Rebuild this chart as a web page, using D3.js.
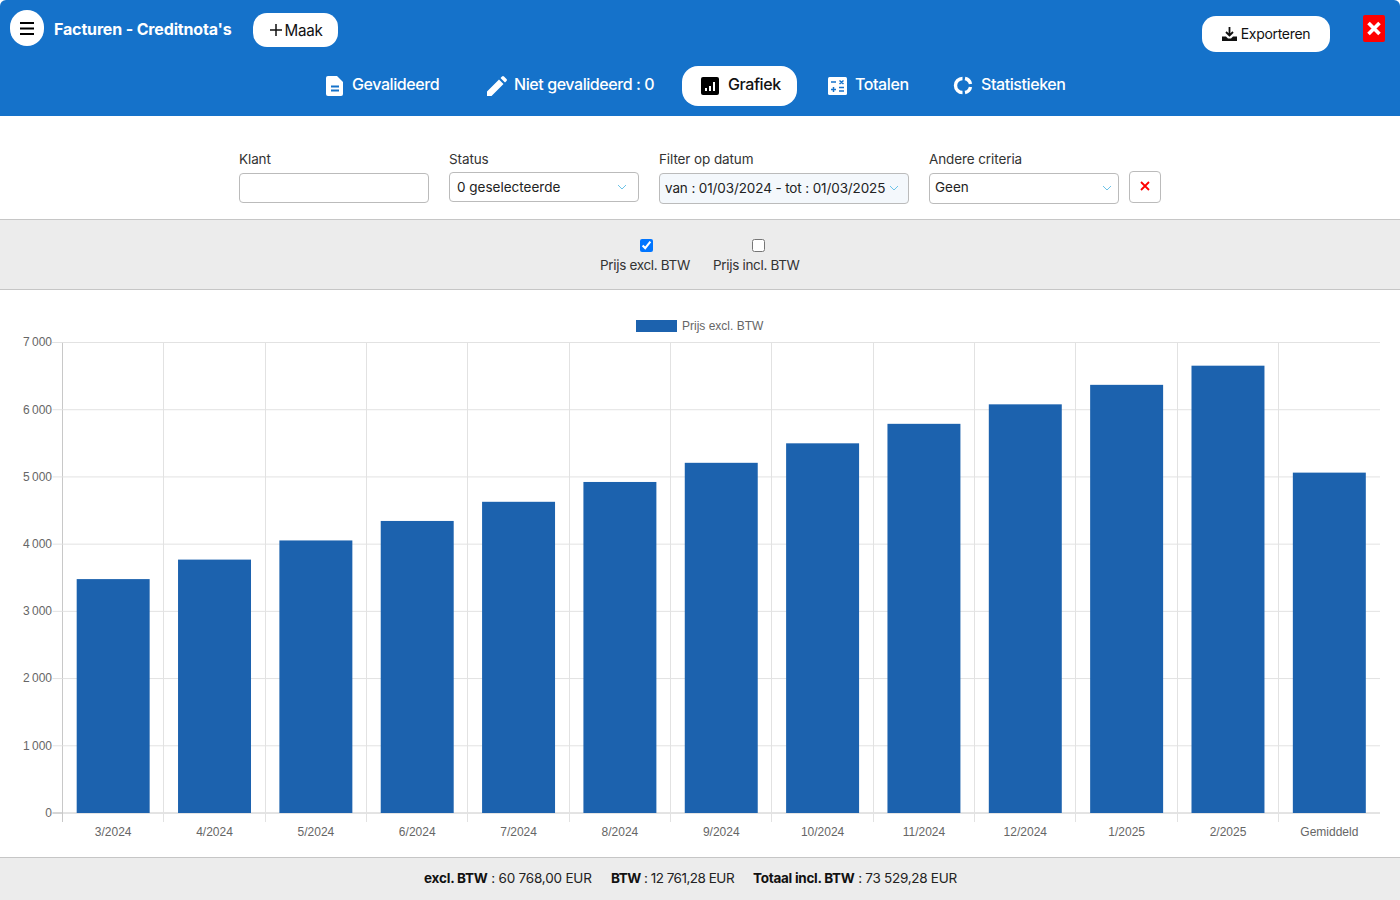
<!DOCTYPE html>
<html>
<head>
<meta charset="utf-8">
<title>Facturen - Creditnota's</title>
<style>
  html, body { margin: 0; padding: 0; background: #fff; }
  body { width: 1400px; height: 900px; position: relative; overflow: hidden; font-family: Inter, "Open Sans", sans-serif; color: #222; }
  .abs { position: absolute; white-space: nowrap; }
  #top { left: 0; top: 0; width: 1400px; height: 116px; background: #1572ca; border-radius: 6px 6px 0 0; }
  .pill { background: #fff; color: #111; display: flex; align-items: center; justify-content: center; box-sizing: border-box; }
  .tab { color: #fff; font-size: 16px; letter-spacing: -0.42px; font-weight: 500; line-height: 20px; }
  .tab svg, .pill svg { position: absolute; }
  .lab { font-size: 13.5px; letter-spacing: -0.1px; color: #333; line-height: 16px; }
  .box { box-sizing: border-box; border: 1px solid #bbb; border-radius: 4px; background: #fff; font-size: 13.5px; color: #222; line-height: 28px; padding-left: 7px; }
  .band { left: 0; width: 1400px; background: #ececec; box-sizing: border-box; }
  .foot { font-size: 13.5px; color: #222; top: 870px; line-height: 16px; }
  .foot b { color: #111; font-weight: 700; }
  #chart { position: absolute; left: 0; top: 290px; }
  #chart text { font-family: "Liberation Sans", Arial, sans-serif; }
</style>
</head>
<body>
  <div class="abs" id="top"></div>

  <div class="abs pill" style="left:10px;top:10px;width:34px;height:36px;border-radius:18px">
    <svg width="14" height="13" viewBox="0 0 14 13" style="left:10px;top:12px"><path d="M0 1h14M0 6.500h14M0 12h14" stroke="#000" stroke-width="2"/></svg>
  </div>
  <div class="abs" style="left:54px;top:19px;color:#fff;font-size:16px;font-weight:700;letter-spacing:-0.15px;line-height:20px">Facturen - Creditnota's</div>
  <div class="abs pill" style="left:253px;top:13px;width:85px;height:34px;border-radius:14px;font-size:15.2px;letter-spacing:-0.3px;padding-left:16px">
    <svg width="12" height="12" viewBox="0 0 12 12" style="left:17px;top:11px"><path d="M6 0v12M0 6h12" stroke="#111" stroke-width="1.5"/></svg>Maak
  </div>
  <div class="abs pill" style="left:1202px;top:16px;width:128px;height:36px;border-radius:14px;font-size:14px;letter-spacing:-0.3px;padding-left:19px;padding-bottom:2px">
    <svg width="15" height="14" viewBox="0 0 15 14" style="left:20px;top:11px"><path d="M7.500 0v8M4 5l3.500 3.500L11 5" fill="none" stroke="#111" stroke-width="1.800"/><path d="M0 9.500h4l2 2h3l2-2h4V14H0z" fill="#111"/></svg>Exporteren
  </div>
  <div class="abs" style="left:1363px;top:15px;width:22px;height:27px;background:#f00;border-radius:2px">
    <svg width="22" height="27" viewBox="0 0 22 27"><path d="M5.500 8l11 11M16.500 8l-11 11" stroke="#fff" stroke-width="3.600"/></svg>
  </div>

  <svg class="abs" style="left:326px;top:76px" width="18" height="20" viewBox="0 0 18 20"><path d="M2 0h9l6 6v12a2 2 0 0 1-2 2H2a2 2 0 0 1-2-2V2a2 2 0 0 1 2-2z" fill="#fff"/><path d="M5 10.500h8M5 14.500h8" stroke="#1572ca" stroke-width="1.800"/></svg>
  <div class="abs tab" style="left:352px;top:74px">Gevalideerd</div>
  <svg class="abs" style="left:487px;top:76px" width="20" height="20" viewBox="0 0 20 20"><path d="M0 20v-4.500L12 3.500 16.500 8 4.500 20zM13.500 2l1.500-1.500a1.500 1.500 0 0 1 2 0l2.500 2.500a1.500 1.500 0 0 1 0 2L18 6.500z" fill="#fff"/></svg>
  <div class="abs tab" style="left:514px;top:74px">Niet gevalideerd : 0</div>
  <div class="abs" style="left:682px;top:66px;width:115px;height:40px;background:#fff;border-radius:16px"></div>
  <svg class="abs" style="left:701px;top:77px" width="18" height="18" viewBox="0 0 18 18"><rect width="18" height="18" rx="2" fill="#000"/><path d="M5 14v-3M9 14V9M13 14V5" stroke="#fff" stroke-width="2"/></svg>
  <div class="abs tab" style="left:728px;top:74px;color:#111">Grafiek</div>
  <svg class="abs" style="left:828px;top:77px" width="19" height="18" viewBox="0 0 19 18"><rect width="19" height="18" rx="1.500" fill="#fff"/><path d="M3 5h5M3 12.500h5M5.500 10v5M11 10.500h5M11 14h5M11.500 3.500l4 3.500M15.500 3.500l-4 3.500" stroke="#1572ca" stroke-width="1.500"/></svg>
  <div class="abs tab" style="left:855px;top:74px">Totalen</div>
  <svg class="abs" style="left:953px;top:75px" width="21" height="21" viewBox="0 0 21 21"><path d="M9.500 3.500a7 7 0 0 0 0 14M12 3.500a7 7 0 0 1 5.500 5.500M17.500 12a7 7 0 0 1-5.500 5.500" fill="none" stroke="#fff" stroke-width="3.400"/></svg>
  <div class="abs tab" style="left:981px;top:74px">Statistieken</div>

  <div class="abs lab" style="left:239px;top:151px">Klant</div>
  <div class="abs box" style="left:239px;top:173px;width:190px;height:30px"></div>
  <div class="abs lab" style="left:449px;top:151px">Status</div>
  <div class="abs box" style="left:449px;top:172px;width:190px;height:30px">0 geselecteerde</div>
  <svg class="abs" style="left:617px;top:184px" width="10" height="7"><path d="M1 1l4 4 4-4" fill="none" stroke="#6cc3e8"/></svg>
  <div class="abs lab" style="left:659px;top:151px">Filter op datum</div>
  <div class="abs box" style="left:659px;top:173px;width:250px;height:31px;background:#f4f8fc;padding-left:5px;line-height:29px;letter-spacing:-0.12px">van : 01/03/2024 - tot : 01/03/2025</div>
  <svg class="abs" style="left:889px;top:185px" width="10" height="7"><path d="M1 1l4 4 4-4" fill="none" stroke="#6cc3e8"/></svg>
  <div class="abs lab" style="left:929px;top:151px">Andere criteria</div>
  <div class="abs box" style="left:929px;top:173px;width:190px;height:31px;padding-left:5px;line-height:26px">Geen</div>
  <svg class="abs" style="left:1102px;top:185px" width="10" height="7"><path d="M1 1l4 4 4-4" fill="none" stroke="#6cc3e8"/></svg>
  <div class="abs" style="left:1129px;top:171px;width:32px;height:32px;box-sizing:border-box;border:1px solid #bbb;border-radius:4px">
    <svg width="30" height="30" viewBox="0 0 30 30"><path d="M11 10l8 8M19 10l-8 8" stroke="#f00" stroke-width="1.800"/></svg>
  </div>

  <div class="abs band" style="top:219px;height:71px;border-top:1px solid #c6c6c6;border-bottom:1px solid #c6c6c6"></div>
  <input class="abs" type="checkbox" checked style="left:640px;top:239px;width:13px;height:13px;margin:0">
  <div class="abs lab" style="left:600px;top:257px;letter-spacing:-0.32px">Prijs excl. BTW</div>
  <input class="abs" type="checkbox" style="left:752px;top:239px;width:13px;height:13px;margin:0">
  <div class="abs lab" style="left:713px;top:257px;letter-spacing:-0.32px">Prijs incl. BTW</div>

  <svg id="chart" width="1400" height="566"></svg>

  <div class="abs band" style="top:857px;height:43px;border-top:1px solid #c6c6c6"></div>
  <div class="abs foot" style="left:424px;letter-spacing:-0.2px"><b>excl. BTW</b> : 60 768,00 EUR</div>
  <div class="abs foot" style="left:611px;letter-spacing:-0.5px"><b>BTW</b> : 12 761,28 EUR</div>
  <div class="abs foot" style="left:753px;letter-spacing:-0.27px"><b>Totaal incl. BTW</b> : 73 529,28 EUR</div>

  <script src="https://d3js.org/d3.v7.min.js"></script>
  <script>
    const data = [
      { maand: "3/2024", waarde: 3480 },
      { maand: "4/2024", waarde: 3770 },
      { maand: "5/2024", waarde: 4055 },
      { maand: "6/2024", waarde: 4345 },
      { maand: "7/2024", waarde: 4630 },
      { maand: "8/2024", waarde: 4925 },
      { maand: "9/2024", waarde: 5210 },
      { maand: "10/2024", waarde: 5500 },
      { maand: "11/2024", waarde: 5790 },
      { maand: "12/2024", waarde: 6080 },
      { maand: "1/2025", waarde: 6370 },
      { maand: "2/2025", waarde: 6655 },
      { maand: "Gemiddeld", waarde: 5064 }
    ];

    const svg = d3.select("#chart");
    const kleur = "#1c62ae";

    // offsets are relative to the svg, which sits at top:290px
    const x = d3.scaleBand()
        .domain(data.map(d => d.maand))
        .range([62.5, 1380])
        .paddingInner(0.28)
        .paddingOuter(0.14);

    const y = d3.scaleLinear()
        .domain([0, 7000])
        .range([523, 52.5]);

    const getal = d3.formatLocale({ decimal: ",", thousands: "\u202f", grouping: [3], currency: ["", ""] }).format(",d");

    // horizontale rasterlijnen + y-as labels
    const yAs = svg.append("g")
        .attr("transform", "translate(62.5,0)")
        .call(d3.axisLeft(y).offset(0).tickValues(d3.range(0, 7001, 1000)).tickSize(10).tickPadding(0.5).tickFormat(getal));
    yAs.select(".domain").attr("stroke", "#c8c8c8");
    yAs.selectAll(".tick line").attr("stroke", d => d === 0 ? "#c8c8c8" : "#e2e2e2");
    yAs.selectAll(".tick").append("line")
        .attr("x2", 1380 - 62.5)
        .attr("stroke", d => d === 0 ? "#c8c8c8" : "#e2e2e2");
    yAs.selectAll("text").attr("font-size", 12).attr("fill", "#666");

    // verticale rasterlijnen tussen de maanden
    const step = x.step();
    svg.append("g").selectAll("line")
        .data(data.slice(1))
        .enter().append("line")
          .attr("x1", d => Math.floor(x(d.maand) - (step - x.bandwidth()) / 2) + 0.5)
          .attr("x2", d => Math.floor(x(d.maand) - (step - x.bandwidth()) / 2) + 0.5)
          .attr("y1", 52.5)
          .attr("y2", 532)
          .attr("stroke", "#e2e2e2");
    svg.append("line")
        .attr("x1", 62.5).attr("x2", 62.5)
        .attr("y1", 523).attr("y2", 532)
        .attr("stroke", "#c8c8c8");

    // balken
    svg.append("g").selectAll("rect")
        .data(data)
        .enter().append("rect")
          .attr("x", d => x(d.maand))
          .attr("y", d => y(d.waarde))
          .attr("width", x.bandwidth())
          .attr("height", d => y(0) - y(d.waarde))
          .attr("fill", kleur);

    // x-as labels
    const xAs = svg.append("g")
        .attr("transform", "translate(0,523)")
        .call(d3.axisBottom(x).tickSize(0).tickPadding(14));
    xAs.select(".domain").remove();
    xAs.selectAll("text").attr("font-size", 12).attr("fill", "#666");

    // legenda
    svg.append("rect")
        .attr("x", 636).attr("y", 30)
        .attr("width", 41).attr("height", 12)
        .attr("fill", kleur);
    svg.append("text")
        .attr("x", 682).attr("y", 40)
        .attr("font-size", 12)
        .attr("fill", "#666")
        .text("Prijs excl. BTW");
  </script>
</body>
</html>
